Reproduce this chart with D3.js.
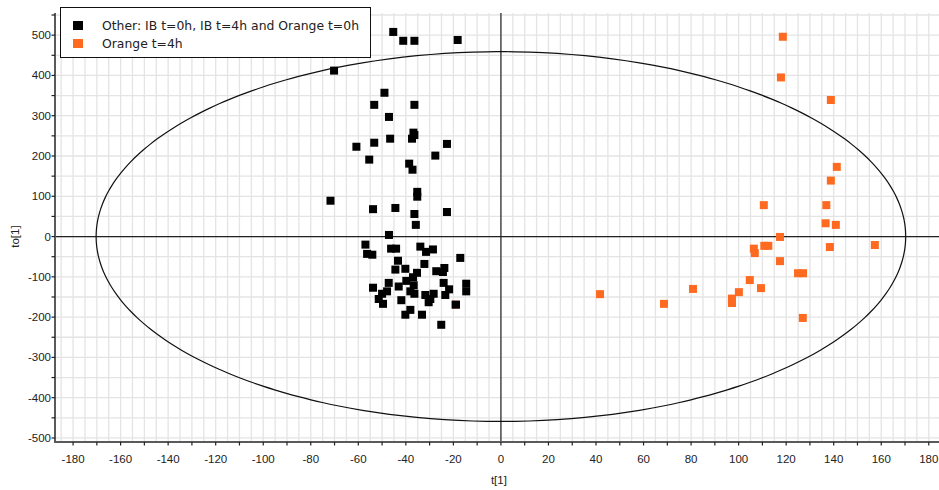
<!DOCTYPE html>
<html>
<head>
<meta charset="utf-8">
<script src="https://cdn.jsdelivr.net/npm/d3@7"></script>
<style>
  html, body { margin: 0; padding: 0; background: #fff; }
  svg { display: block; }
</style>
</head>
<body>
<svg id="chart" width="939" height="490"></svg>
<script>
// Score scatter: predictive component t[1] vs orthogonal component to[1]
const otherT = [
  -45.3, -41.1, -36.4, -18.2, -70.2, -49.0, -53.3, -36.4, -47.1, -36.8,
  -36.4, -37.4, -46.6, -53.3, -60.8, -22.7, -27.6, -55.4, -38.6, -37.2,
  -35.2, -35.2, -71.7, -53.8, -44.4, -36.4, -22.7, -35.8, -47.1,
  -57.0, -46.2, -44.1, -33.9, -28.6, -31.5, -56.3, -54.1, -17.1, -43.3,
  -32.2, -44.4, -40.2, -35.3, -27.2, -23.8, -24.4, -37.0, -39.8, -47.2,
  -24.1, -14.6, -53.8, -43.0, -36.7, -47.9, -38.1, -21.8, -14.6, -50.0,
  -36.4, -31.8, -28.3, -23.4, -51.4, -29.7, -41.9, -49.6, -30.4, -18.9,
  -38.1, -40.2, -33.2, -25.1
];
const otherTo = [
  508, 486, 486, 488, 412, 357, 327, 327, 297, 258,
  252, 243, 243, 233, 223, 230, 201, 191, 181, 166,
  111, 99, 89, 68, 71, 56, 61, 29, 4,
  -20, -30, -30, -25, -32, -38, -43, -45, -53, -60,
  -68, -82, -80, -90, -86, -78, -88, -101, -110, -115,
  -115, -117, -127, -124, -121, -136, -136, -131, -136, -142,
  -142, -145, -142, -145, -155, -155, -158, -167, -163, -169,
  -182, -194, -194, -219
];
const orangeT = [
  118.6, 117.8, 138.8, 141.3, 138.8, 136.9, 110.6, 136.6, 140.9, 117.4,
  106.4, 106.8, 110.8, 112.5, 138.4, 157.3, 117.4, 125.0, 127.1, 104.7,
  109.4, 100.1, 97.2, 97.2, 127.0, 41.7, 68.6, 80.8, -19.3
];
const orangeTo = [
  496, 395, 339, 173, 139, 78, 78, 33, 29, -1,
  -30, -41, -23, -23, -26, -21, -61, -91, -91, -108,
  -128, -138, -154, -165, -202, -143, -167, -130, -169
];
const seriesNames = ["Other: IB t=0h, IB t=4h and Orange t=0h", "Orange t=4h"];
const seriesColors = ["#000000", "#ff6a21"];
const xTicks = d3.range(-180, 181, 20);
const yTicks = d3.range(-500, 501, 100);
// Hotelling T2 ellipse semi-axes (t[1], to[1])
const ellipseRadii = [170.3, 459];

const W = 939, H = 490;
const plot = { left: 55, right: 939, top: 13, bottom: 442 };

const svg = d3.select("#chart");
const x = d3.scaleLinear().domain([-187.6, 184.3]).range([plot.left, plot.right]);
const y = d3.scaleLinear().domain([-510, 555]).range([plot.bottom, plot.top]);

svg.append("defs").append("clipPath").attr("id", "plotClip")
  .append("rect").attr("x", plot.left).attr("y", plot.top)
  .attr("width", plot.right - plot.left).attr("height", plot.bottom - plot.top);

// grid
const grid = svg.append("g").attr("stroke", "#e4e4e4").attr("stroke-width", 1.3);
grid.selectAll("line.v").data(d3.range(-185, 185, 5)).join("line")
  .attr("x1", d => x(d)).attr("x2", d => x(d))
  .attr("y1", plot.top).attr("y2", plot.bottom);
grid.selectAll("line.h").data(d3.range(-500, 551, 50)).join("line")
  .attr("x1", plot.left).attr("x2", plot.right)
  .attr("y1", d => y(d)).attr("y2", d => y(d));

const body = svg.append("g").attr("clip-path", "url(#plotClip)");

// zero lines
body.append("line").attr("x1", plot.left).attr("x2", plot.right)
  .attr("y1", y(0)).attr("y2", y(0)).attr("stroke", "#222").attr("stroke-width", 1.2);
body.append("line").attr("x1", x(0)).attr("x2", x(0))
  .attr("y1", plot.top).attr("y2", plot.bottom).attr("stroke", "#222").attr("stroke-width", 1.2);

// confidence ellipse
const angles = d3.range(0, 361, 2).map(a => a * Math.PI / 180);
body.append("path")
  .datum(angles)
  .attr("fill", "none").attr("stroke", "#111").attr("stroke-width", 1.2)
  .attr("d", d3.line()
    .x(a => x(ellipseRadii[0] * Math.cos(a)))
    .y(a => y(ellipseRadii[1] * Math.sin(a)))
    .curve(d3.curveCardinalClosed));

// points
const size = 8;
function drawSeries(ts, tos, color) {
  body.append("g").selectAll("rect").data(ts.map((t, i) => [t, tos[i]])).join("rect")
    .attr("x", d => x(d[0]) - size / 2).attr("y", d => y(d[1]) - size / 2)
    .attr("width", size).attr("height", size).attr("fill", color);
}
drawSeries(orangeT, orangeTo, seriesColors[1]);
drawSeries(otherT, otherTo, seriesColors[0]);

// axes
const axisColor = "#5a5a5a";
const xAxis = svg.append("g").attr("transform", `translate(0,${plot.bottom})`);
xAxis.append("line").attr("x1", plot.left - 1).attr("x2", plot.right)
  .attr("y1", 0).attr("y2", 0).attr("stroke", axisColor).attr("stroke-width", 2);
xAxis.selectAll("line.t").data(d3.range(-180, 181, 10)).join("line")
  .attr("x1", d => x(d)).attr("x2", d => x(d)).attr("y1", 0).attr("y2", 3.5)
  .attr("stroke", "#222").attr("stroke-width", 1.2);
xAxis.selectAll("text").data(xTicks).join("text")
  .attr("x", d => x(d)).attr("y", 21)
  .attr("text-anchor", "middle")
  .attr("font-family", "Liberation Sans, Arial, sans-serif").attr("font-size", 11.5)
  .attr("fill", "#222").text(d => d);

const yAxis = svg.append("g").attr("transform", `translate(${plot.left},0)`);
yAxis.append("line").attr("x1", 0).attr("x2", 0)
  .attr("y1", plot.top).attr("y2", plot.bottom + 1).attr("stroke", axisColor).attr("stroke-width", 2);
yAxis.selectAll("line.t").data(d3.range(-500, 551, 50)).join("line")
  .attr("x1", -3.5).attr("x2", 0).attr("y1", d => y(d)).attr("y2", d => y(d))
  .attr("stroke", "#222").attr("stroke-width", 1.2);
yAxis.selectAll("text").data(yTicks).join("text")
  .attr("x", -4).attr("y", d => y(d) + 4)
  .attr("text-anchor", "end")
  .attr("font-family", "Liberation Sans, Arial, sans-serif").attr("font-size", 11.5)
  .attr("fill", "#222").text(d => d);

// axis titles
svg.append("text").attr("x", x(0) - 2).attr("y", 484).attr("text-anchor", "middle")
  .attr("font-family", "Liberation Sans, Arial, sans-serif").attr("font-size", 11.5)
  .attr("fill", "#222").text("t[1]");
svg.append("text").attr("transform", `translate(19,${y(0)}) rotate(-90)`)
  .attr("text-anchor", "middle")
  .attr("font-family", "Liberation Sans, Arial, sans-serif").attr("font-size", 11.5)
  .attr("fill", "#222").text("to[1]");

// legend
const legend = svg.append("g");
legend.append("rect").attr("x", 60.5).attr("y", 7.5).attr("width", 310).attr("height", 50)
  .attr("fill", "#fff").attr("stroke", "#111").attr("stroke-width", 1);
const items = legend.selectAll("g.item").data(seriesNames).join("g")
  .attr("transform", (d, i) => `translate(0,${i * 18})`);
items.append("rect").attr("x", 73).attr("y", 21).attr("width", 10).attr("height", 9)
  .attr("fill", (d, i) => seriesColors[i]);
items.append("text").attr("x", 102).attr("y", 30)
  .attr("font-family", "DejaVu Sans, Verdana, sans-serif").attr("font-size", 12.4)
  .attr("fill", "#222").text(d => d);
</script>
</body>
</html>
